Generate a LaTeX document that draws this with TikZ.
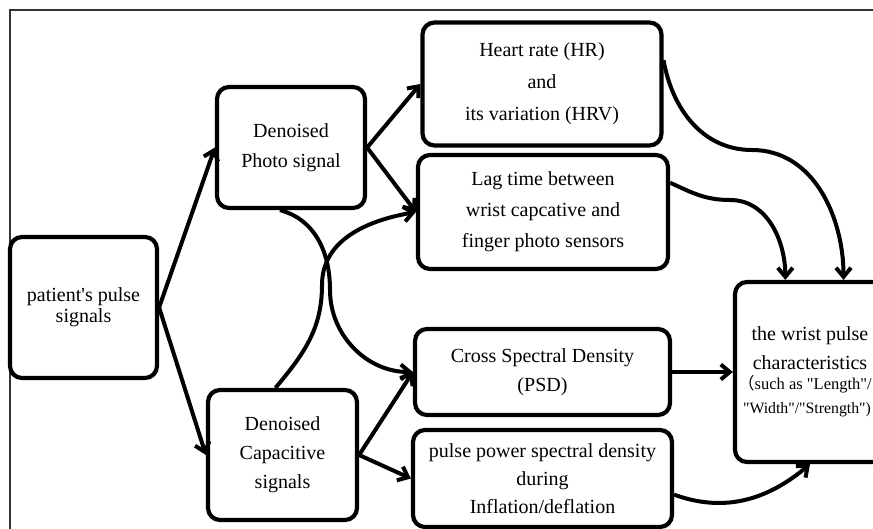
\documentclass[tikz,border=0pt]{standalone}
\usepackage{fontspec}
\setmainfont{Liberation Serif}
\newfontfamily\cjkfont{Noto Sans CJK SC}
\usetikzlibrary{arrows.meta}
\begin{document}
\begin{tikzpicture}[x=1pt,y=1pt,
  box/.style={draw, line width=4.2pt, rounded corners=12pt, align=center, inner sep=0pt},
  conn/.style={line width=4pt, -{Straight Barb[length=9pt,width=15pt]}},
  frameline/.style={line width=1.4pt, black!80}
]
\useasboundingbox (0,0) rectangle (873,-529);
\clip (0,0) rectangle (873,-529);
\draw[frameline] (10,-560) -- (10,-10) -- (900,-10);

\node[box, minimum width=147pt, minimum height=141pt, font=\fontsize{20}{21}\selectfont] (pat) at (83.5,-307.5) {patient\textquotesingle s pulse\\signals};
\node[box, minimum width=148pt, minimum height=121pt, font=\fontsize{20}{30}\selectfont] (photo) at (291,-147.5) {Denoised\\Photo signal};
\node[box, minimum width=149pt, minimum height=130pt, font=\fontsize{20}{29}\selectfont] (cap) at (282.5,-455) {Denoised\\Capacitive\\signals};
\node[box, minimum width=239pt, minimum height=123pt, font=\fontsize{20}{32}\selectfont] (hr) at (542,-84) {Heart rate (HR)\\and\\its variation (HRV)};
\node[box, minimum width=250pt, minimum height=114pt, font=\fontsize{20}{31}\selectfont] (lag) at (543,-212) {Lag time between\\wrist capcative and\\finger photo sensors};
\node[box, minimum width=255pt, minimum height=86pt, font=\fontsize{20}{29}\selectfont] (csd) at (542.5,-372) {Cross Spectral Density\\(PSD)};
\node[box, minimum width=259pt, minimum height=97pt, font=\fontsize{20}{28}\selectfont] (pulse) at (542.5,-478.5) {pulse power spectral density\\during\\Inflation/deflation};
\node[box, minimum width=150pt, minimum height=180pt, font=\fontsize{20}{24}\selectfont] (wrist) at (810,-372) {the wrist pulse\\[5pt]characteristics\\[-3.5pt]{\fontsize{16.5}{24}\selectfont\hspace*{-10pt}{\cjkfont （}such as \textquotedbl Length\textquotedbl/}\\{\fontsize{15.8}{24}\selectfont\hspace*{-6pt}\textquotedbl Width\textquotedbl/\textquotedbl Strength\textquotedbl)}};

\coordinate (p1) at (330,-290);
\coordinate (c1) at (322,-285);
\coordinate (h1) at (752,-150);
\coordinate (l1) at (730,-200);

\draw[conn] (pat.east) -- (photo.west);
\draw[conn] (pat.east) -- (cap.west);
\draw[conn] (photo.east) -- (hr.west);
\draw[conn] (photo.east) -- (lag.west);
\draw[conn] (photo.-100) to[out=-15,in=90] (p1) to[out=-90,in=180] (csd.west);
\draw[conn] (cap.96) to[out=50,in=-90] (c1) to[out=90,in=190] (lag.west);
\draw[conn] (cap.east) -- (csd.west);
\draw[conn] (cap.east) -- (pulse.west);
\draw[conn] (hr.11) to[out=-80,in=180] (h1) to[out=0,in=90] (wrist.70);
\draw[conn] (lag.13) to[out=-25,in=180] (l1) to[out=0,in=90] (wrist.105);
\draw[conn] (csd.east) -- (wrist.west);
\draw[conn] (pulse.-7) to[out=-20,in=220] (wrist.south);
\end{tikzpicture}
\end{document}
